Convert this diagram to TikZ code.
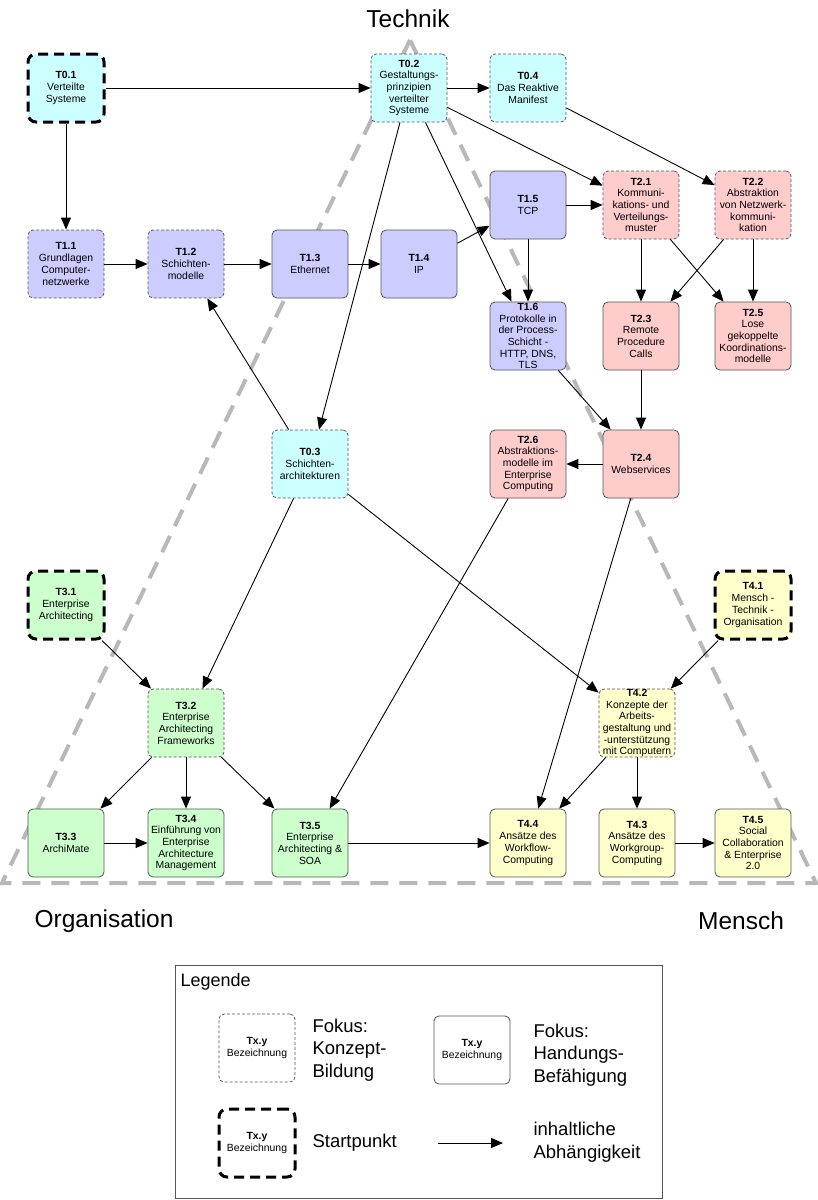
\documentclass[tikz,border=0pt]{standalone}
\usepackage{fontspec}
\setmainfont{Liberation Sans}
\usetikzlibrary{arrows.meta}

\definecolor{technikA}{HTML}{CCFFFF}
\definecolor{technikB}{HTML}{CCCCFF}
\definecolor{technikC}{HTML}{FFCCCC}
\definecolor{orgfill}{HTML}{CCFFCC}
\definecolor{menschfill}{HTML}{FFFFCC}
\definecolor{randgrau}{HTML}{555555}
\definecolor{dreieckgrau}{HTML}{B8B8B8}

\begin{document}
\begin{tikzpicture}[x=1pt, y=-1pt,
    >={Triangle[length=12pt,width=10pt]},
    box/.style={rounded corners=5pt, minimum width=76pt, minimum height=68pt,
        inner sep=0pt, align=center, font=\fontsize{10.4}{11.7}\selectfont},
    konzept/.style={box, draw=randgrau, line width=0.8pt, dash pattern=on 3pt off 2pt},
    handlung/.style={box, draw=randgrau, line width=0.8pt},
    startbox/.style={box, draw=black, line width=3pt, dash pattern=on 10pt off 6pt, rounded corners=8pt},
    pfeil/.style={->, line width=0.9pt},
    ecke/.style={font=\fontsize{24.5}{29}\selectfont},
    legtext/.style={anchor=west, align=left, font=\fontsize{18.5}{22.5}\selectfont}]

    \useasboundingbox (0,0) rectangle (818,1200);

    % Dreieck %
    \draw[dreieckgrau, line width=4pt, dash pattern=on 18pt off 11pt] (410,40) -- (2,883) -- (816,883) -- cycle;

    \node[ecke] (technik) at (408,19) {Technik};
    \node[ecke] (organisation) at (104,921) {Organisation};
    \node[ecke] (mensch) at (741,921) {Mensch};

    % Technik, Grundlagen
    \node[startbox, fill=technikA] (t01) at (66,88) {\textbf{T0.1}\\Verteilte\\Systeme};
    \node[konzept, fill=technikA] (t02) at (409,88) {\textbf{T0.2}\\Gestaltungs-\\prinzipien\\verteilter\\Systeme};
    \node[konzept, fill=technikA] (t04) at (528,88) {\textbf{T0.4}\\Das Reaktive\\Manifest};
    \node[konzept, fill=technikA] (t03) at (310,464) {\textbf{T0.3}\\Schichten-\\architekturen};

    % Netzwerke
    \node[konzept, fill=technikB] (t11) at (66,264) {\textbf{T1.1}\\Grundlagen\\Computer-\\netzwerke};
    \node[konzept, fill=technikB] (t12) at (186,264) {\textbf{T1.2}\\Schichten-\\modelle};
    \node[handlung, fill=technikB] (t13) at (310,264) {\textbf{T1.3}\\Ethernet};
    \node[handlung, fill=technikB] (t14) at (419,264) {\textbf{T1.4}\\IP};
    \node[handlung, fill=technikB] (t15) at (528,205) {\textbf{T1.5}\\TCP};
    \node[handlung, fill=technikB] (t16) at (528,336) {\textbf{T1.6}\\Protokolle in\\der Process-\\Schicht -\\HTTP, DNS,\\TLS};

    % Verteilung
    \node[konzept, fill=technikC] (t21) at (641,205) {\textbf{T2.1}\\Kommuni-\\kations- und\\Verteilungs-\\muster};
    \node[konzept, fill=technikC] (t22) at (753,205) {\textbf{T2.2}\\Abstraktion\\von Netzwerk-\\kommuni-\\kation};
    \node[handlung, fill=technikC] (t23) at (641,336) {\textbf{T2.3}\\Remote\\Procedure\\Calls};
    \node[handlung, fill=technikC] (t25) at (753,336) {\textbf{T2.5}\\Lose\\gekoppelte\\Koordinations-\\modelle};
    \node[handlung, fill=technikC] (t24) at (641,464) {\textbf{T2.4}\\Webservices};
    \node[handlung, fill=technikC] (t26) at (528,464) {\textbf{T2.6}\\Abstraktions-\\modelle im\\Enterprise\\Computing};

    % Organisation
    \node[startbox, fill=orgfill] (t31) at (66,605) {\textbf{T3.1}\\Enterprise\\Architecting};
    \node[konzept, fill=orgfill] (t32) at (186,723) {\textbf{T3.2}\\Enterprise\\Architecting\\Frameworks};
    \node[handlung, fill=orgfill] (t33) at (66,843) {\textbf{T3.3}\\ArchiMate};
    \node[handlung, fill=orgfill] (t34) at (186,843) {\textbf{T3.4}\\Einführung von\\Enterprise\\Architecture\\Management};
    \node[handlung, fill=orgfill] (t35) at (310,843) {\textbf{T3.5}\\Enterprise\\Architecting \&\\SOA};

    % Mensch
    \node[startbox, fill=menschfill] (t41) at (753,605) {\textbf{T4.1}\\Mensch -\\Technik -\\Organisation};
    \node[konzept, fill=menschfill] (t42) at (637,723) {\textbf{T4.2}\\Konzepte der\\Arbeits-\\gestaltung und\\-unterstützung\\mit Computern};
    \node[handlung, fill=menschfill] (t44) at (528,843) {\textbf{T4.4}\\Ansätze des\\Workflow-\\Computing};
    \node[handlung, fill=menschfill] (t43) at (637,843) {\textbf{T4.3}\\Ansätze des\\Workgroup-\\Computing};
    \node[handlung, fill=menschfill] (t45) at (753,843) {\textbf{T4.5}\\Social\\Collaboration\\\& Enterprise\\2.0};

    % Abhaengigkeiten %
    \draw[pfeil] (t01) -- (t02);
    \draw[pfeil] (t01) -- (t11);
    \draw[pfeil] (t02) -- (t04);
    \draw[pfeil] (t02) -- (t21);
    \draw[pfeil] (t04) -- (t22);
    \draw[pfeil] (t02) -- (t16);
    \draw[pfeil] (t02) -- (t03);
    \draw[pfeil] (t11) -- (t12);
    \draw[pfeil] (t12) -- (t13);
    \draw[pfeil] (t13) -- (t14);
    \draw[pfeil] (t14) -- (t15);
    \draw[pfeil] (t15) -- (t21);
    \draw[pfeil] (t15) -- (t16);
    \draw[pfeil] (t21) -- (t23);
    \draw[pfeil] (t21) -- (t25);
    \draw[pfeil] (t22) -- (t23);
    \draw[pfeil] (t22) -- (t25);
    \draw[pfeil] (t23) -- (t24);
    \draw[pfeil] (t16) -- (t24);
    \draw[pfeil] (t24) -- (t26);
    \draw[pfeil] (t03) -- (t12);
    \draw[pfeil] (t03) -- (t32);
    \draw[pfeil] (t03) -- (t42);
    \draw[pfeil] (t26) -- (t35);
    \draw[pfeil] (t24) -- (t44);
    \draw[pfeil] (t31) -- (t32);
    \draw[pfeil] (t32) -- (t33);
    \draw[pfeil] (t32) -- (t34);
    \draw[pfeil] (t32) -- (t35);
    \draw[pfeil] (t33) -- (t34);
    \draw[pfeil] (t35) -- (t44);
    \draw[pfeil] (t41) -- (t42);
    \draw[pfeil] (t42) -- (t44);
    \draw[pfeil] (t42) -- (t43);
    \draw[pfeil] (t43) -- (t45);

    % Legende %
    \draw[randgrau, line width=0.8pt] (175,965) rectangle (662,1198);
    \node[anchor=west, font=\fontsize{18}{22}\selectfont] (legende) at (177,982) {Legende};
    \node[konzept] (legkonzept) at (257,1048) {\textbf{Tx.y}\\Bezeichnung};
    \node[handlung] (leghandlung) at (472,1050) {\textbf{Tx.y}\\Bezeichnung};
    \node[startbox] (legstart) at (257,1143) {\textbf{Tx.y}\\Bezeichnung};
    \node[legtext] (txtkonzept) at (309,1050) {Fokus:\\Konzept-\\Bildung};
    \node[legtext] (txthandlung) at (530,1055) {Fokus:\\Handungs-\\Befähigung};
    \node[legtext] (txtstart) at (309,1143) {Startpunkt};
    \node[legtext] (txtpfeil) at (530,1142) {inhaltliche\\Abhängigkeit};
    \coordinate (pfeilA) at (438,1143);
    \coordinate (pfeilB) at (503,1143);
    \draw[pfeil] (pfeilA) -- (pfeilB);
\end{tikzpicture}
\end{document}
